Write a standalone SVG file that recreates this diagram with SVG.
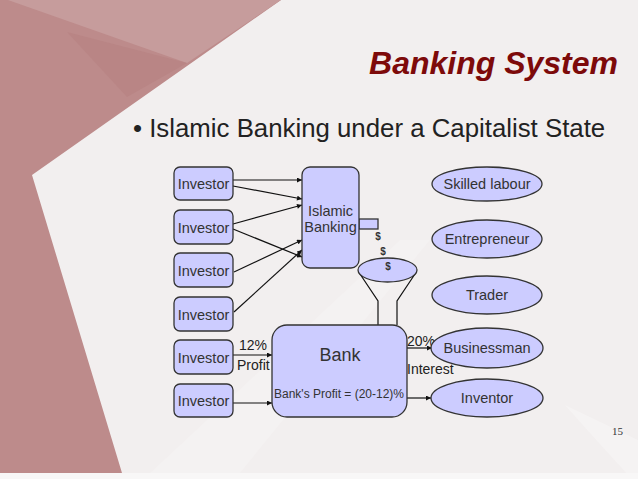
<svg xmlns="http://www.w3.org/2000/svg" width="638" height="479" viewBox="0 0 638 479">
<defs>
<style>
.box{fill:#ccccff;stroke:#333;stroke-width:1.3}
.lbl{font-family:"Liberation Sans",Arial,sans-serif;font-size:14.5px;fill:#333;text-anchor:middle}
.edge{stroke:#111;stroke-width:1.2;fill:none}
.etxt{font-family:"Liberation Sans",Arial,sans-serif;font-size:14px;fill:#222}
.dollar{font-family:"Liberation Sans",Arial,sans-serif;font-size:10px;font-weight:bold;fill:#333;text-anchor:middle}
</style>
<marker id="ah" viewBox="0 0 10 10" refX="10" refY="5" markerWidth="6" markerHeight="5" orient="auto" markerUnits="userSpaceOnUse">
<path d="M0,0 L10,5 L0,10 z" fill="#111"/>
</marker>
</defs>
<g id="background">
<rect x="0" y="0" width="638" height="479" fill="#f2efef"/>
<polygon points="150,473 240,473 430,240 400,240" fill="#ffffff" opacity="0.18"/>
<path d="M565,405 Q605,450 632,479 L638,479 L638,440 Z" fill="#ffffff" opacity="0.25"/>
<polygon points="0,0 281,0 32,175 122,473 0,473" fill="#bd8b8b"/>
<polygon points="8,0 281,0 187,63" fill="#c69c9c"/>
<polygon points="67,32 187,63 127,97" fill="#b98585"/>
<rect x="0" y="473" width="638" height="6" fill="#f8f7f7"/>
</g>
<g id="title">
<text x="618" y="74" text-anchor="end" font-family="Liberation Sans,Arial,sans-serif" font-size="32" font-weight="bold" font-style="italic" fill="#7d0a0a">Banking System</text>
</g>
<g id="subtitle">
<text x="133" y="137" font-family="Liberation Sans,Arial,sans-serif" font-size="25.8" fill="#222">• Islamic Banking under a Capitalist State</text>
</g>
<g id="connectors">
<line class="edge" x1="233" y1="180" x2="302" y2="180" marker-end="url(#ah)"/>
<line class="edge" x1="233" y1="186" x2="302" y2="199" marker-end="url(#ah)"/>
<line class="edge" x1="233" y1="224" x2="302" y2="205" marker-end="url(#ah)"/>
<line class="edge" x1="233" y1="229" x2="302" y2="257" marker-end="url(#ah)"/>
<line class="edge" x1="234" y1="272" x2="302" y2="240" marker-end="url(#ah)"/>
<line class="edge" x1="234" y1="312" x2="302" y2="250" marker-end="url(#ah)"/>
<line class="edge" x1="233" y1="355" x2="272" y2="355" marker-end="url(#ah)"/>
<line class="edge" x1="233" y1="403" x2="272" y2="403" marker-end="url(#ah)"/>
<line class="edge" x1="407" y1="348" x2="432" y2="348" marker-end="url(#ah)"/>
<line class="edge" x1="407" y1="398" x2="431" y2="398" marker-end="url(#ah)"/>
<text class="etxt" x="239" y="350">12%</text>
<text class="etxt" x="237" y="370">Profit</text>
<text class="etxt" x="407" y="346">20%</text>
<text class="etxt" x="407" y="374">Interest</text>
</g>
<g id="investor1"><rect class="box" x="174" y="167" width="59" height="33" rx="6"/><text class="lbl" x="203.5" y="188.5">Investor</text></g>
<g id="investor2"><rect class="box" x="174" y="210" width="59" height="34" rx="6"/><text class="lbl" x="203.5" y="232.5">Investor</text></g>
<g id="investor3"><rect class="box" x="174" y="253" width="59" height="34" rx="6"/><text class="lbl" x="203.5" y="275.5">Investor</text></g>
<g id="investor4"><rect class="box" x="174" y="297" width="59" height="34" rx="6"/><text class="lbl" x="203.5" y="319.5">Investor</text></g>
<g id="investor5"><rect class="box" x="174" y="340" width="59" height="34" rx="6"/><text class="lbl" x="203.5" y="362.5">Investor</text></g>
<g id="investor6"><rect class="box" x="174" y="384" width="59" height="33" rx="6"/><text class="lbl" x="203.5" y="405.5">Investor</text></g>
<g id="islamic-banking">
<rect class="box" x="359" y="219" width="19" height="10"/>
<rect class="box" x="302" y="167" width="57" height="101" rx="8"/>
<text class="lbl" x="330.5" y="216">Islamic</text>
<text class="lbl" x="330.5" y="232">Banking</text>
</g>
<g id="funnel">
<path d="M360,274 L378,301 L378,325 M415,274 L397,301 L397,325" stroke="#111" stroke-width="1.2" fill="none"/>
<ellipse class="box" cx="387.5" cy="270" rx="29.5" ry="12"/>
<text class="dollar" x="378" y="240">$</text>
<text class="dollar" x="383" y="255">$</text>
<text class="dollar" x="388" y="270">$</text>
</g>
<g id="bank">
<rect class="box" x="272" y="325" width="135" height="92" rx="15"/>
<text class="lbl" x="340" y="361" style="font-size:18px">Bank</text>
<text class="lbl" x="339" y="398" style="font-size:12px">Bank's Profit = (20-12)%</text>
</g>
<g id="skilled-labour"><ellipse class="box" cx="487" cy="184" rx="55" ry="17"/><text class="lbl" x="487" y="189">Skilled labour</text></g>
<g id="entrepreneur"><ellipse class="box" cx="487" cy="239" rx="55" ry="19"/><text class="lbl" x="487" y="244">Entrepreneur</text></g>
<g id="trader"><ellipse class="box" cx="487" cy="295" rx="55" ry="19"/><text class="lbl" x="487" y="300">Trader</text></g>
<g id="businessman"><ellipse class="box" cx="487" cy="348" rx="56" ry="20"/><text class="lbl" x="487" y="353">Businessman</text></g>
<g id="inventor"><ellipse class="box" cx="487" cy="398" rx="56" ry="19"/><text class="lbl" x="487" y="403">Inventor</text></g>
<g id="page-number">
<text x="623" y="435" text-anchor="end" font-family="Liberation Serif,Times New Roman,serif" font-size="11" fill="#333">15</text>
</g>
</svg>
